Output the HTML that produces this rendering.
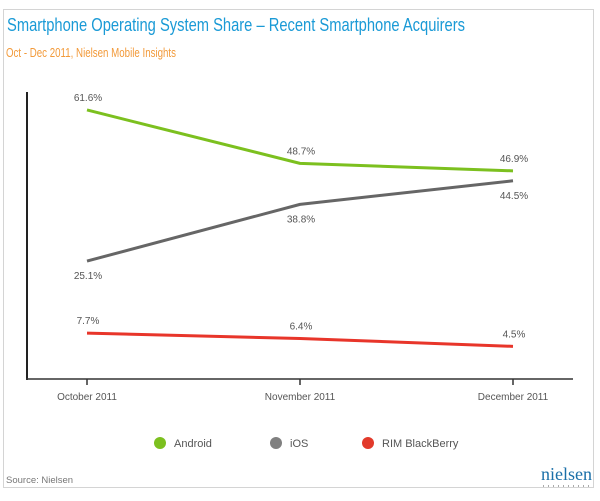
<!DOCTYPE html>
<html><head><meta charset="utf-8"><style>
body{margin:0;background:#fff;width:600px;height:496px;overflow:hidden;font-family:"Liberation Sans","DejaVu Sans",sans-serif}
</style></head><body>
<svg width="600" height="496" xmlns="http://www.w3.org/2000/svg">
<rect x="3.5" y="9.5" width="590" height="478" fill="#fff" stroke="#d4d4d4"/>
<text x="7" y="31" font-size="18.5" fill="#1a9ad6" textLength="458" lengthAdjust="spacingAndGlyphs">Smartphone Operating System Share – Recent Smartphone Acquirers</text>
<text x="6" y="57" font-size="12.5" fill="#f29a3a" textLength="170" lengthAdjust="spacingAndGlyphs">Oct - Dec 2011, Nielsen Mobile Insights</text>
<line x1="27" y1="92" x2="27" y2="380" stroke="#222" stroke-width="2"/>
<line x1="26" y1="379" x2="573" y2="379" stroke="#333" stroke-width="1.5"/>
<g id="ticks"></g>
<g id="series"></g>
<g id="legend" font-size="11" fill="#555">
<circle cx="160" cy="443" r="6" fill="#7cc01f"/>
<text x="174" y="447">Android</text>
<circle cx="276" cy="443" r="6" fill="#808080"/>
<text x="290" y="447">iOS</text>
<circle cx="368" cy="443" r="6" fill="#e23a2b"/>
<text x="382" y="447">RIM BlackBerry</text>
</g>
<text x="6" y="483" font-size="9.5" fill="#777">Source: Nielsen</text>
<text x="592" y="480" font-size="18" fill="#1a6fa8" text-anchor="end" font-family="Liberation Serif,serif">nielsen</text>
<line x1="543" y1="486" x2="592" y2="486" stroke="#555" stroke-width="1" stroke-dasharray="1,4"/>
</svg>
<script>
const categories=["October 2011","November 2011","December 2011"];
const android=[61.6,48.7,46.9];
const ios=[25.1,38.8,44.5];
const rim=[7.7,6.4,4.5];
const NS="http://www.w3.org/2000/svg";
function xPos(i){return 87+i*213;}
function yPos(v){return 365-v*4.14;}
const ticks=document.getElementById('ticks');
const series=document.getElementById('series');
function mk(tag,attrs,parent){const e=document.createElementNS(NS,tag);for(const k in attrs)e.setAttribute(k,attrs[k]);parent.appendChild(e);return e;}
categories.forEach((c,i)=>{
  const t=mk('line',{x1:xPos(i),x2:xPos(i),y1:379,y2:385,stroke:'#333','stroke-width':1.5},ticks);
  
  
  const l=mk('text',{x:xPos(i),y:400,'font-size':10,fill:'#555','text-anchor':'middle'},ticks);
  l.textContent=c;
  
  
});
function draw(vals,color,name,below){
  const p=mk('polyline',{points:vals.map((v,i)=>xPos(i)+','+yPos(v)).join(' '),fill:'none',stroke:color,'stroke-width':3,'stroke-linejoin':'round'},series);
  
  
  vals.forEach((v,i)=>{
    const t=mk('text',{x:xPos(i)+1,y:yPos(v)+(below?18:-9),'font-size':10,fill:'#555','text-anchor':'middle'},series);
    t.textContent=v.toFixed(1)+'%';
    
    
  });
}
draw(android,'#7cc01f','android',false);
draw(ios,'#666666','ios',true);
draw(rim,'#e8352a','rim',false);
</script>
</body></html>
